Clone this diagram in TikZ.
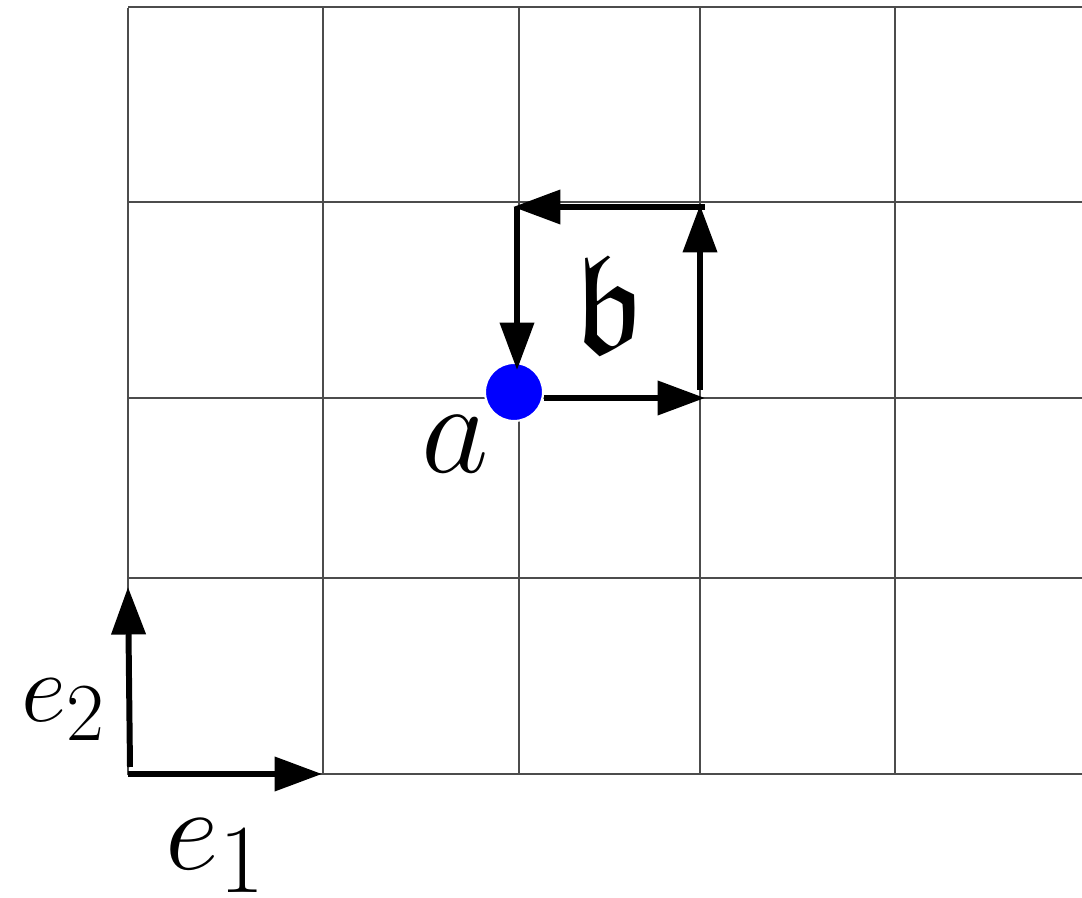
\documentclass[tikz,border=0pt]{standalone}
\usepackage{amssymb}
\usetikzlibrary{arrows.meta}
\tikzset{
  gridline/.style={draw=black!70, line width=0.4pt},
  vecarrow/.style={line width=1.7pt, -{Triangle[length=13.5pt,width=9.5pt]}},
  bigmath/.style={inner sep=0pt, font=\fontsize{24.88}{30}\selectfont},
}
\begin{document}
\begin{tikzpicture}[x=0.01cm,y=-0.01cm]
\useasboundingbox (0,0) rectangle (1082,898);

% lattice
\foreach \gx in {128,323,519,700,895}
  \draw[gridline] (\gx,8) -- (\gx,775);
\foreach \gy in {7,202,398,578,774}
  \draw[gridline] (128,\gy) -- (1082,\gy);

% base point and loop around the cell
\node[circle, fill=blue, draw=white, line width=0.6pt, minimum size=16.5pt, inner sep=0pt] (a) at (514,392) {};
\coordinate (br) at (705,398);
\coordinate (tr) at (700,205);
\coordinate (tl) at (513,207);
\draw[vecarrow] (a.east |- br) -- (br);
\draw[vecarrow] (700,390) -- (tr);
\draw[vecarrow] (705,207) -- (tl);
\draw[vecarrow] (517,207) -- (517,370);

\node[bigmath] (alabel) at (455,444) {\scalebox{1.5}{$a$}};
\node[bigmath, font=\fontsize{40}{44}\selectfont] (blabel) at (609,304) {$\mathfrak{b}$};

% basis vectors
\coordinate (o) at (128,774);
\coordinate (e1tip) at (322,774);
\coordinate (e2tip) at (128,587);
\draw[vecarrow] (o) -- (e1tip);
\draw[vecarrow] (130,767) -- (e2tip);
\node[bigmath] (e1) at (216,856) {\scalebox{1.34}{$e_1$}};
\node[bigmath] (e2) at (64,710) {\scalebox{1.13}{$e_2$}};
\end{tikzpicture}
\end{document}
